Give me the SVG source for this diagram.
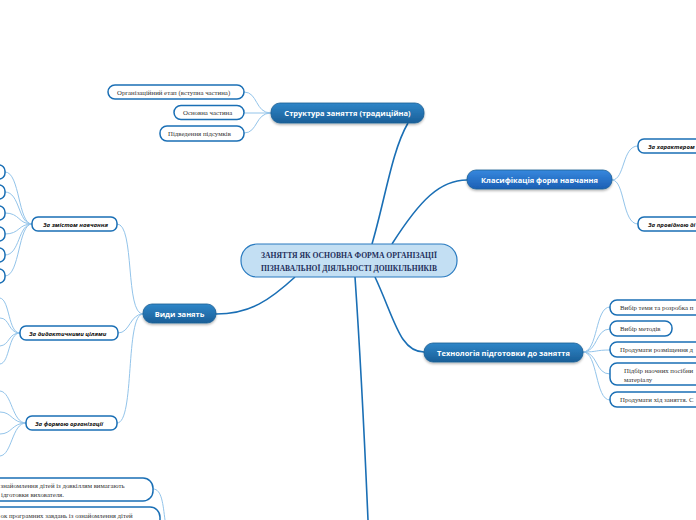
<svg xmlns="http://www.w3.org/2000/svg" width="696" height="520" viewBox="0 0 696 520">
<defs>
<linearGradient id="gBlue" x1="0" y1="0" x2="0" y2="1">
<stop offset="0" stop-color="#2f86c8"/>
<stop offset="1" stop-color="#1a5f98"/>
</linearGradient>
<linearGradient id="gBright" x1="0" y1="0" x2="0" y2="1">
<stop offset="0" stop-color="#3688de"/>
<stop offset="1" stop-color="#1c5fb4"/>
</linearGradient>
<filter id="sh" x="-10%" y="-30%" width="120%" height="170%">
<feDropShadow dx="0" dy="1.5" stdDeviation="1.2" flood-color="#000" flood-opacity="0.3"/>
</filter>
<style>
.main{fill:none;stroke:#1a6fb5;stroke-width:1.6}
.sub{fill:none;stroke:#93c4ea;stroke-width:1}
.branch{stroke:#1b5f96;stroke-width:0.8;filter:url(#sh)}
.btxt{font-family:"Open Sans","DejaVu Sans",sans-serif;font-weight:bold;font-size:7.5px;fill:#fff;text-anchor:middle}
.leaf{fill:#fff;stroke:#1a6fb5;stroke-width:1.5}
.ltxt{font-family:"Liberation Serif","DejaVu Serif",serif;font-size:6.8px;fill:#333}
.itxt{font-family:"Open Sans","DejaVu Sans",sans-serif;font-weight:bold;font-style:italic;font-size:6px;fill:#111}
.ctxt{font-family:"Liberation Serif","DejaVu Serif",serif;font-weight:bold;font-size:8.5px;fill:#1f2f5c;text-anchor:middle}
</style>
</defs>
<rect width="696" height="520" fill="#fff"/>
<g id="connectors">
<path class="main" d="M372,244 C385,200 392,150 408,123"/>
<path class="main" d="M392,244 C420,200 440,180 467,180"/>
<path class="main" d="M295,277 C270,300 250,314 216,314"/>
<path class="main" d="M375,277 C395,320 400,352 424,352"/>
<path class="main" d="M355,277 C360,350 365,450 368,520"/>
<path class="sub" d="M271,113 C255,113 258,92 244,92"/>
<path class="sub" d="M271,113 L244,113"/>
<path class="sub" d="M271,113 C255,113 258,133 244,133"/>
<path class="sub" d="M612,180 C625,180 622,146 638,146"/>
<path class="sub" d="M612,180 C625,180 622,224 638,224"/>
<path class="sub" d="M583,352 C598,352 595,307 610,307"/>
<path class="sub" d="M583,352 C598,352 595,329 610,329"/>
<path class="sub" d="M583,352 C598,352 595,350 610,350"/>
<path class="sub" d="M583,352 C598,352 595,374 610,374"/>
<path class="sub" d="M583,352 C598,352 595,400 610,400"/>
<path class="sub" d="M143,314 C125,314 135,224 117,224"/>
<path class="sub" d="M143,314 C130,314 130,333 118,333"/>
<path class="sub" d="M143,314 C125,314 135,423 117,423"/>
<path class="sub" d="M32,224 C18,224 20,172 5,172"/>
<path class="sub" d="M32,224 C18,224 20,192 5,192"/>
<path class="sub" d="M32,224 C18,224 20,213 5,213"/>
<path class="sub" d="M32,224 C18,224 20,234 5,234"/>
<path class="sub" d="M32,224 C18,224 20,255 5,255"/>
<path class="sub" d="M32,224 C18,224 20,276 5,276"/>
<path class="sub" d="M20,333 C8,333 10,300 0,298"/>
<path class="sub" d="M20,333 C8,333 10,318 0,318"/>
<path class="sub" d="M20,333 C8,333 10,345 0,346"/>
<path class="sub" d="M20,333 C8,333 10,363 0,364"/>
<path class="sub" d="M26,423 C12,423 12,392 0,391"/>
<path class="sub" d="M26,423 C12,423 12,412 0,412"/>
<path class="sub" d="M26,423 C12,423 12,434 0,434"/>
<path class="sub" d="M26,423 C12,423 12,455 0,456"/>
<path class="sub" d="M153,489 C162,489 163,505 165,520"/>
</g>
<g id="center">
<rect x="241" y="244" width="216" height="33" rx="16" fill="#c3dff3" stroke="#2a7bc0" stroke-width="1.2"/>
<text class="ctxt" x="349" y="258" textLength="176" lengthAdjust="spacingAndGlyphs">ЗАНЯТТЯ ЯК ОСНОВНА ФОРМА ОРГАНІЗАЦІЇ</text>
<text class="ctxt" x="349" y="271" textLength="176" lengthAdjust="spacingAndGlyphs">ПІЗНАВАЛЬНОЇ ДІЯЛЬНОСТІ ДОШКІЛЬНИКІВ</text>
</g>
<g id="structure">
<rect class="branch" x="271" y="103" width="153" height="20" rx="9" fill="url(#gBlue)"/>
<text class="btxt" x="347.5" y="116">Структура заняття (традиційна)</text>
</g>
<g id="s1"><rect class="leaf" x="108" y="85" width="136" height="14" rx="7"/><text class="ltxt" x="117" y="94.5">Організаційний етап (вступна частина)</text></g>
<g id="s2"><rect class="leaf" x="174" y="105.5" width="70" height="14" rx="7"/><text class="ltxt" x="183" y="115">Основна частина</text></g>
<g id="s3"><rect class="leaf" x="160" y="126" width="84" height="15" rx="7"/><text class="ltxt" x="168" y="136">Підведення підсумків</text></g>
<g id="classification">
<rect class="branch" x="467" y="170" width="145" height="19" rx="9" fill="url(#gBright)"/>
<text class="btxt" x="539.5" y="182.5">Класифікація форм навчання</text>
</g>
<g id="c1"><rect class="leaf" x="638" y="139" width="80" height="14" rx="6"/><text class="itxt" x="648" y="148.5">За характером</text></g>
<g id="c2"><rect class="leaf" x="638" y="217" width="80" height="14" rx="6"/><text class="itxt" x="648" y="226.5">За провідною ді</text></g>
<g id="technology">
<rect class="branch" x="424" y="343" width="159" height="19" rx="9" fill="url(#gBlue)"/>
<text class="btxt" x="503.5" y="355.5">Технологія підготовки до заняття</text>
</g>
<g id="t1"><rect class="leaf" x="610" y="300" width="110" height="15" rx="7"/><text class="ltxt" x="620" y="310">Вибір теми та розробка п</text></g>
<g id="t2"><rect class="leaf" x="610" y="321" width="62" height="15" rx="7"/><text class="ltxt" x="620" y="331">Вибір методів</text></g>
<g id="t3"><rect class="leaf" x="610" y="342" width="110" height="15" rx="7"/><text class="ltxt" x="620" y="352">Продумати розміщення д</text></g>
<g id="t4"><rect class="leaf" x="610" y="363" width="110" height="22" rx="7"/><text class="ltxt" x="624" y="372.5">Підбір наочних посібни</text><text class="ltxt" x="624" y="381.5">матеріалу</text></g>
<g id="t5"><rect class="leaf" x="610" y="392" width="110" height="15" rx="7"/><text class="ltxt" x="620" y="402">Продумати хід заняття. С</text></g>
<g id="vidy">
<rect class="branch" x="143" y="304" width="73" height="19" rx="9" fill="url(#gBlue)"/>
<text class="btxt" x="179.5" y="316.5">Види занять</text>
</g>
<g id="v1"><rect class="leaf" x="32" y="217" width="85" height="14" rx="6"/><text class="itxt" x="43" y="226.5">За змістом навчання</text></g>
<g id="v2"><rect class="leaf" x="20" y="326" width="98" height="14" rx="6"/><text class="itxt" x="29" y="335.5">За дидактичними цілями</text></g>
<g id="v3"><rect class="leaf" x="26" y="416" width="91" height="14" rx="6"/><text class="itxt" x="35" y="425.5">За формою організації</text></g>
<g id="z1"><rect class="leaf" x="-40" y="165" width="45" height="14" rx="6"/></g>
<g id="z2"><rect class="leaf" x="-40" y="185" width="45" height="14" rx="6"/></g>
<g id="z3"><rect class="leaf" x="-40" y="206" width="45" height="14" rx="6"/></g>
<g id="z4"><rect class="leaf" x="-40" y="227" width="45" height="14" rx="6"/></g>
<g id="z5"><rect class="leaf" x="-40" y="248" width="45" height="14" rx="6"/></g>
<g id="z6"><rect class="leaf" x="-40" y="269" width="45" height="14" rx="6"/></g>
<g id="b1"><rect class="leaf" x="-60" y="478" width="213" height="23" rx="10"/><text class="ltxt" x="0.5" y="488">знайомлення дітей із довкіллям вимагають</text><text class="ltxt" x="1" y="497">ідготовки вихователя.</text></g>
<g id="b2"><rect class="leaf" x="-60" y="507" width="220" height="30" rx="10"/><text class="ltxt" x="0.5" y="518">ок програмних завдань із ознайомлення дітей</text></g>
</svg>
